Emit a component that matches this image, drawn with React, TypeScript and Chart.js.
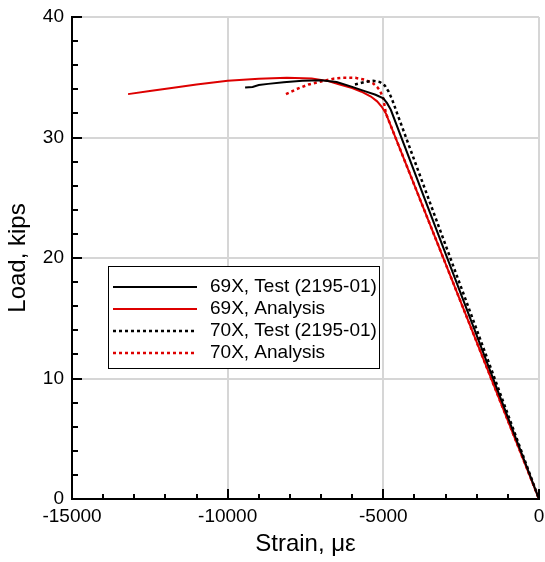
import React, { useEffect, useRef } from "react";
import { Chart, registerables } from "chart.js";

Chart.register(...registerables);

// ---- data (strain in microstrain, load in kips) ----
const test69X = [-9440, -9200, -9000, -8700, -8200, -7600, -7000, -6500, -6000, -5600, -5250, -5000, -4880, -4760, 0];
const test69Y = [34.15, 34.2, 34.35, 34.45, 34.58, 34.7, 34.75, 34.6, 34.2, 33.85, 33.55, 33.25, 32.85, 32.3, 0];

const ana69X = [-13200, -12500, -11800, -11000, -10000, -9000, -8100, -7300, -6800, -6400, -6000, -5700, -5400, -5200, -5050, -4918, 0];
const ana69Y = [33.6, 33.85, 34.1, 34.4, 34.7, 34.88, 34.95, 34.9, 34.7, 34.4, 34.1, 33.8, 33.4, 33.0, 32.55, 32.0, 0];

const test70X = [-5911, -5600, -5332, -5108, -4950, -4830, -4732, -4640, -4571, 0];
const test70Y = [34.4, 34.6, 34.7, 34.6, 34.3, 33.8, 33.25, 32.6, 32.1, 0];

const ana70X = [-8127, -7800, -7400, -7000, -6600, -6300, -5900, -5600, -5332, -5200, -5108, -5002, -4918, 0];
const ana70Y = [33.6, 34.0, 34.4, 34.65, 34.88, 34.96, 34.95, 34.8, 34.5, 34.2, 33.9, 33.25, 32.0, 0];

const seriesLabels = ["69X, Test (2195-01)", "69X, Analysis", "70X, Test (2195-01)", "70X, Analysis"];

const xMin = -15000, xMax = 0, xMajor = 5000, xMinor = 1000;
const yMin = 0, yMax = 40, yMajor = 10, yMinor = 2;

const FONT = "'Liberation Sans', Arial, Helvetica, sans-serif";
const RED = "#dd0000";

const zip = (xs: number[], ys: number[]) => xs.map((x, i) => ({ x, y: ys[i] }));

const inwardTicks = {
  id: "inwardTicks",
  afterDraw(chart: any) {
    const { ctx, chartArea } = chart;
    const xs = chart.scales.x, ys = chart.scales.y;
    ctx.save();
    ctx.strokeStyle = "#000";
    ctx.lineWidth = 2;
    ctx.beginPath();
    for (let v = xMin; v <= xMax; v += xMinor) {
      const px = Math.round(xs.getPixelForValue(v));
      const len = v % xMajor === 0 ? 10 : 5;
      ctx.moveTo(px, chartArea.bottom);
      ctx.lineTo(px, chartArea.bottom - len);
    }
    for (let v = yMin; v <= yMax; v += yMinor) {
      const py = Math.round(ys.getPixelForValue(v));
      const len = v % yMajor === 0 ? 10 : 6;
      ctx.moveTo(chartArea.left, py);
      ctx.lineTo(chartArea.left + len, py);
    }
    ctx.stroke();
    ctx.restore();
  },
};

const boxLegend = {
  id: "boxLegend",
  afterDraw(chart: any) {
    const { ctx } = chart;
    const x0 = 108, y0 = 266, w = 271, h = 102;
    ctx.save();
    ctx.fillStyle = "#fff";
    ctx.fillRect(x0, y0, w, h);
    ctx.strokeStyle = "#000";
    ctx.lineWidth = 1;
    ctx.strokeRect(x0 + 0.5, y0 + 0.5, w, h);
    ctx.font = `19px ${FONT}`;
    ctx.textBaseline = "middle";
    ctx.textAlign = "left";
    chart.data.datasets.forEach((ds: any, i: number) => {
      const y = 287 + i * 22;
      ctx.beginPath();
      ctx.strokeStyle = ds.borderColor;
      ctx.lineWidth = ds.borderWidth;
      ctx.setLineDash(ds.borderDash || []);
      ctx.moveTo(113, y);
      ctx.lineTo(197, y);
      ctx.stroke();
      ctx.setLineDash([]);
      ctx.fillStyle = "#000";
      ctx.fillText(ds.label, 210, y);
    });
    ctx.restore();
  },
};

export default function App() {
  const ref = useRef<HTMLCanvasElement | null>(null);
  useEffect(() => {
    if (!ref.current) return;
    const common = { showLine: true, pointRadius: 0, fill: false, tension: 0 };
    const chart = new Chart(ref.current, {
      type: "scatter",
      data: {
        datasets: [
          { ...common, label: seriesLabels[0], data: zip(test69X, test69Y), borderColor: "#000", borderWidth: 2 },
          { ...common, label: seriesLabels[1], data: zip(ana69X, ana69Y), borderColor: RED, borderWidth: 2 },
          { ...common, label: seriesLabels[2], data: zip(test70X, test70Y), borderColor: "#000", borderWidth: 2.5, borderDash: [3, 3] },
          { ...common, label: seriesLabels[3], data: zip(ana70X, ana70Y), borderColor: RED, borderWidth: 2.5, borderDash: [3, 3] },
        ],
      },
      options: {
        animation: false,
        responsive: false,
        layout: { padding: { top: 17, right: 6, left: 0, bottom: 0 } },
        plugins: { legend: { display: false }, tooltip: { enabled: false } },
        scales: {
          x: {
            type: "linear",
            min: xMin,
            max: xMax,
            afterFit: (s: any) => { s.height = 63; s.paddingRight = 0; s.paddingLeft = 0; },
            ticks: { stepSize: xMajor, color: "#000", font: { family: FONT, size: 19 }, padding: 6, callback: (v: any) => String(v) },
            grid: { color: "#d6d6d6", lineWidth: 2, drawTicks: false },
            border: { color: "#000", width: 2 },
            title: { display: true, text: "Strain, με", color: "#000", font: { family: FONT, size: 24 }, padding: { top: 0, bottom: 3 } },
          },
          y: {
            type: "linear",
            min: yMin,
            max: yMax,
            afterFit: (s: any) => { s.width = 72; s.paddingTop = 0; s.paddingBottom = 0; },
            ticks: { stepSize: yMajor, color: "#000", font: { family: FONT, size: 19 }, padding: 8 },
            grid: { color: "#d6d6d6", lineWidth: 2, drawTicks: false },
            border: { color: "#000", width: 2 },
            title: { display: true, text: "Load, kips", color: "#000", font: { family: FONT, size: 24 }, padding: { top: 4, bottom: 0 } },
          },
        },
      },
      plugins: [inwardTicks, boxLegend],
    });
    return () => chart.destroy();
  }, []);
  return (
    <div style={{ position: "absolute", left: 0, top: 0, width: 545, height: 562, background: "#fff" }}>
      <canvas ref={ref} width={545} height={562} />
    </div>
  );
}
